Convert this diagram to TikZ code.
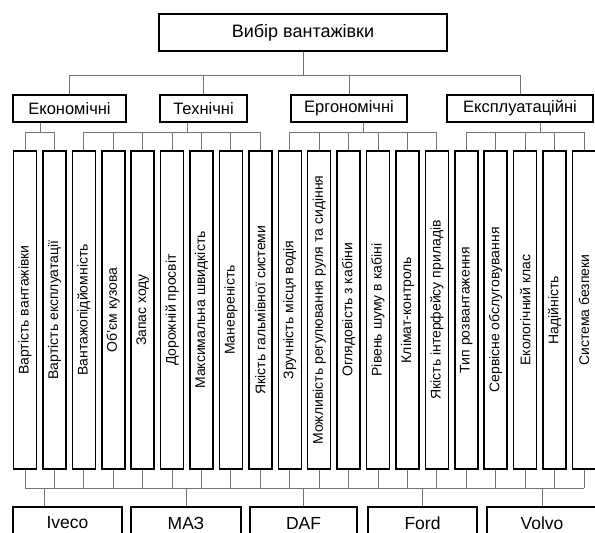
\documentclass[tikz,border=0pt]{standalone}
\usepackage{fontspec}
\setmainfont{Liberation Sans}
\begin{document}
\begin{tikzpicture}[x=1pt,y=-1pt]
    \tikzset{
        boxstyle/.style={draw=black, line width=1.5pt, inner sep=0pt, align=center},
        catstyle/.style={boxstyle, minimum height=27pt, font=\fontsize{16.5}{18}\selectfont},
        critstyle/.style={boxstyle, rotate=90, minimum width=318pt, minimum height=23pt, font=\fontsize{14}{16}\selectfont},
        firmstyle/.style={boxstyle, minimum height=32pt, font=\fontsize{17.5}{20}\selectfont},
        linkstyle/.style={draw=gray!90!black, line width=0.9pt}
    }
    \useasboundingbox (0,0) rectangle (595,533);

    % Мета
    \node[boxstyle, minimum width=288pt, minimum height=37pt, font=\fontsize{18}{20}\selectfont] (root) at (303,32.5) {Вибір вантажівки};

    % Групи критеріїв
    \node[catstyle, minimum width=113pt] (econ) at (69.5,108.5) {Економічні};
    \node[catstyle, minimum width=87pt] (tech) at (203.5,108.5) {Технічні};
    \node[catstyle, minimum width=116pt] (ergo) at (349,108.5) {Ергономічні};
    \node[catstyle, minimum width=146pt] (expl) at (520,108.5) {Експлуатаційні};

    % Критерії (20 вертикальних блоків)
    \foreach \i/\t in {1/{Вартість вантажівки}, 2/{Вартість експлуатації}, 3/{Вантажопідйомність},
        4/{Об'єм кузова}, 5/{Запас ходу}, 6/{Дорожній просвіт}, 7/{Максимальна швидкість},
        8/{Маневреність}, 9/{Якість гальмівної системи}, 10/{Зручність місця водія},
        11/{Можливість регулювання руля та сидіння}, 12/{Оглядовість з кабіни},
        13/{Рівень шуму в кабіні}, 14/{Клімат-контроль}, 15/{Якість інтерфейсу приладів},
        16/{Тип розвантаження}, 17/{Сервісне обслуговування}, 18/{Екологічний клас},
        19/{Надійність}, 20/{Система безпеки}} {
        \node[critstyle] (k\i) at ({25+29.42*(\i-1)},310) {\t};
    }

    % Альтернативи
    \node[firmstyle, minimum width=109pt] (iveco) at (67.5,523) {Iveco};
    \node[firmstyle, minimum width=110pt] (maz) at (186,523) {МАЗ};
    \node[firmstyle, minimum width=107pt] (daf) at (303.5,523) {DAF};
    \node[firmstyle, minimum width=109pt] (ford) at (422.5,523) {Ford};
    \node[firmstyle, minimum width=110pt] (volvo) at (542,523) {Volvo};

    % -- З'ЄДНАННЯ --

    % Мета -> групи
    \coordinate (rootbus) at (303,75);
    \draw[linkstyle] (root.south) -- (rootbus);
    \draw[linkstyle] (econ.north) -- (econ.north |- rootbus) -- (expl.north |- rootbus) -- (expl.north);
    \draw[linkstyle] (tech.north) -- (tech.north |- rootbus);
    \draw[linkstyle] (ergo.north) -- (ergo.north |- rootbus);

    % Групи -> критерії
    \coordinate (grpbus) at (0,132);
    \coordinate (econstem) at (40,132);
    \coordinate (techstem) at (187,132);
    \coordinate (ergostem) at (363,132);
    \coordinate (explstem) at (540,132);
    \draw[linkstyle] (econ.south -| econstem) -- (econstem);
    \draw[linkstyle] (tech.south -| techstem) -- (techstem);
    \draw[linkstyle] (ergo.south -| ergostem) -- (ergostem);
    \draw[linkstyle] (expl.south -| explstem) -- (explstem);
    \draw[linkstyle] (k1.east |- grpbus) -- (k2.east |- grpbus);
    \draw[linkstyle] (k3.east |- grpbus) -- (k9.east |- grpbus);
    \draw[linkstyle] (k10.east |- grpbus) -- (k15.east |- grpbus);
    \draw[linkstyle] (k16.east |- grpbus) -- (k20.east |- grpbus);
    \foreach \i in {1,...,20} \draw[linkstyle] (k\i.east) -- (k\i.east |- grpbus);

    % Критерії -> альтернативи
    \coordinate (firmbus) at (0,488);
    \foreach \i in {1,...,20} \draw[linkstyle] (k\i.west) -- (k\i.west |- firmbus);
    \draw[linkstyle] (k1.west |- firmbus) -- (k20.west |- firmbus);
    \coordinate (ivecostem) at (44,488);
    \draw[linkstyle] (ivecostem) -- (iveco.north -| ivecostem);
    \foreach \f in {maz,daf,ford,volvo} \draw[linkstyle] (\f.north |- firmbus) -- (\f.north);

\end{tikzpicture}
\end{document}
